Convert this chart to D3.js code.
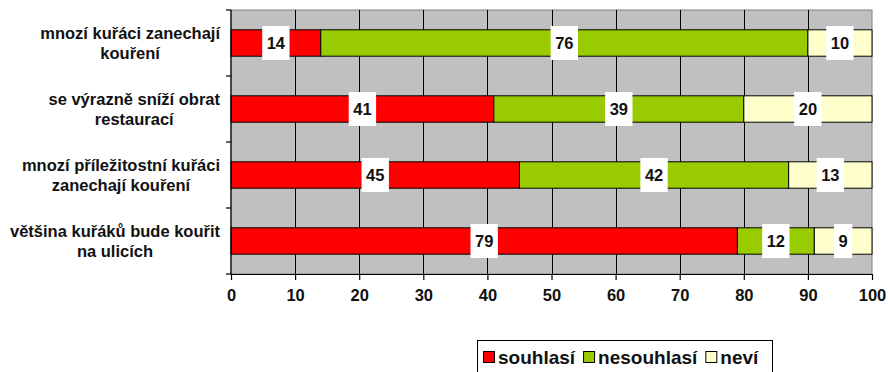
<!DOCTYPE html>
<html><head><meta charset="utf-8">
<script src="https://cdn.jsdelivr.net/npm/d3@7"></script>
<style>
html,body{margin:0;padding:0;background:#fff;}
svg text{font-family:"Liberation Sans",Arial,sans-serif;font-weight:bold;fill:#111;}
</style></head>
<body>
<svg id="c" width="888" height="372"></svg>
<script>
const categories = [
  ["mnozí kuřáci zanechají", "kouření"],
  ["se výrazně sníží obrat", "restaurací"],
  ["mnozí příležitostní kuřáci", "zanechají kouření"],
  ["většina kuřáků bude kouřit", "na ulicích"]
];
const seriesNames = ["souhlasí", "nesouhlasí", "neví"];
const souhlasi   = [14, 41, 45, 79];
const nesouhlasi = [76, 39, 42, 12];
const nevi       = [10, 20, 13, 9];
const xTicks = [0, 10, 20, 30, 40, 50, 60, 70, 80, 90, 100];
const colors = ["#ff0000", "#99cc00", "#ffffcc"];

const svg = d3.select("#c");
const L = 231, R = 872, T = 10, B = 274;
const x = d3.scaleLinear().domain([0, 100]).range([L, R]);
const y = d3.scaleBand().domain(d3.range(categories.length)).range([T, B]).paddingInner(0.6).paddingOuter(0.3);
const yEdge = d3.scaleLinear().domain([0, categories.length]).range([T, B]);

// plot background
svg.append("rect").attr("x", L).attr("y", T).attr("width", R - L).attr("height", B - T)
  .attr("fill", "#c0c0c0").attr("stroke", "#808080").attr("stroke-width", 1);

// vertical gridlines
svg.append("g").selectAll("line").data(xTicks.slice(1, -1)).join("line")
  .attr("x1", d => Math.round(x(d)) + 0.5).attr("x2", d => Math.round(x(d)) + 0.5)
  .attr("y1", T).attr("y2", B).attr("stroke", "#000").attr("stroke-width", 1);

// stacked bars
const series = [souhlasi, nesouhlasi, nevi];
const rows = categories.map((c, i) => {
  let acc = 0;
  return series.map((s, k) => { const seg = {i, k, v: s[i], x0: acc, x1: acc + s[i]}; acc += s[i]; return seg; });
});
const segs = rows.flat();
svg.append("g").selectAll("rect").data(segs).join("rect")
  .attr("x", d => x(d.x0)).attr("width", d => x(d.x1) - x(d.x0))
  .attr("y", d => y(d.i)).attr("height", y.bandwidth())
  .attr("fill", d => colors[d.k]).attr("stroke", "#000").attr("stroke-width", 1);

// x axis
const xAxis = svg.append("g").attr("transform", `translate(0,${B})`)
  .call(d3.axisBottom(x).tickValues(xTicks).tickSize(6).tickPadding(4).tickSizeOuter(0));
xAxis.select(".domain").attr("stroke", "#000").attr("stroke-width", 1.2);
xAxis.selectAll(".tick line").attr("stroke", "#000").attr("stroke-width", 1.2);
xAxis.selectAll(".tick text").attr("font-size", 16.5).attr("fill", "#111")
  .attr("font-family", "Liberation Sans, Arial, sans-serif").attr("font-weight", "bold").attr("dy", "1.05em");

// y axis line + ticks at band edges
svg.append("line").attr("x1", L).attr("x2", L).attr("y1", T).attr("y2", B + 0.5).attr("stroke", "#000").attr("stroke-width", 1.2);
svg.append("g").selectAll("line").data(d3.range(categories.length + 1)).join("line")
  .attr("x1", L - 5).attr("x2", L).attr("y1", d => yEdge(d)).attr("y2", d => yEdge(d))
  .attr("stroke", "#000").attr("stroke-width", 1.2);

// category labels
categories.forEach((lines, i) => {
  const cy = y(i) + y.bandwidth() / 2;
  const g = svg.append("g");
  const ts = lines.map((t, j) => g.append("text").attr("font-size", 16.5).attr("text-anchor", "middle")
    .attr("y", cy + 6 + (j - (lines.length - 1) / 2) * 19.5).text(t));
  const maxW = d3.max(ts, t => t.node().getComputedTextLength());
  ts.forEach(t => t.attr("x", 220 - maxW / 2));
});

// data labels
const lg = svg.append("g");
segs.forEach(d => {
  const cx = x((d.x0 + d.x1) / 2), cy = y(d.i) + y.bandwidth() / 2;
  const t = lg.append("text").attr("font-size", 16.5).attr("text-anchor", "middle")
    .attr("x", cx).attr("y", cy + 6).text(d.v);
  const w = t.node().getComputedTextLength() + 9;
  lg.insert("rect", "text").attr("x", cx - w / 2).attr("y", cy - 17).attr("width", w).attr("height", 34).attr("fill", "#fff");
});
lg.selectAll("text").raise();

// legend
const leg = svg.append("g");
leg.append("rect").attr("x", 477.5).attr("y", 340.5).attr("width", 295).attr("height", 50)
  .attr("fill", "#fff").attr("stroke", "#000").attr("stroke-width", 1);
let lx = 483;
seriesNames.forEach((n, k) => {
  leg.append("rect").attr("x", lx + 0.5).attr("y", 351.5).attr("width", 11).attr("height", 11)
    .attr("fill", colors[k]).attr("stroke", "#000").attr("stroke-width", 1);
  const t = leg.append("text").attr("font-size", 19).attr("x", lx + 15).attr("y", 364).text(n);
  lx += 15 + t.node().getComputedTextLength() + 8;
});
</script>
</body></html>
